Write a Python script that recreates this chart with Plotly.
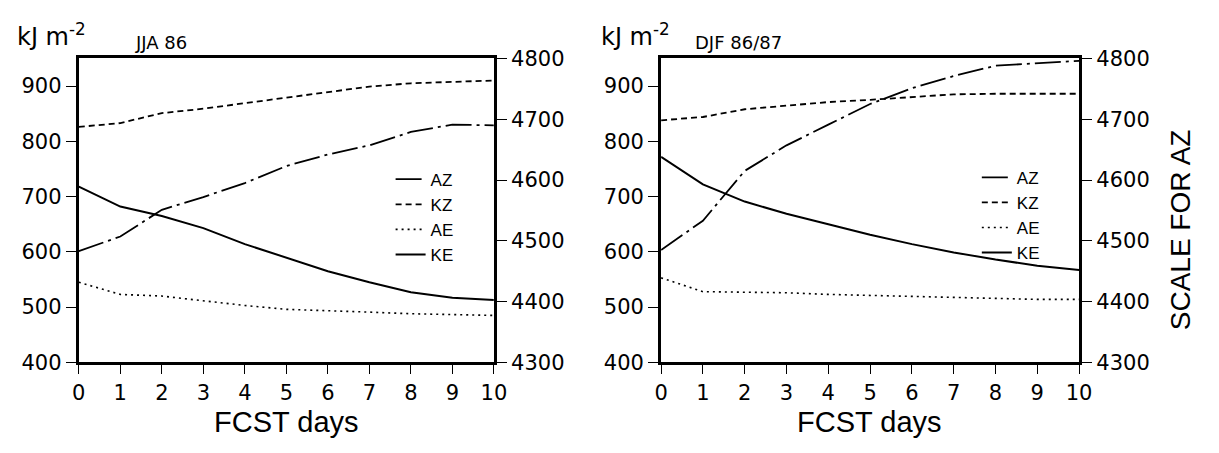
import plotly.graph_objects as go

# ---------------- data ----------------
days = [0, 1, 2, 3, 4, 5, 6, 7, 8, 9, 10]

# JJA 86
jja_AZ = [4483, 4507, 4551, 4572, 4595, 4623, 4642, 4657, 4679, 4691, 4690]
jja_KZ = [826, 833, 851, 859, 869, 879, 888, 899, 905, 908, 910]
jja_AE = [545, 523, 520, 511, 503, 496, 494, 491, 488, 486, 485]
jja_KE = [718, 682, 665, 643, 614, 589, 565, 545, 527, 517, 513]

# DJF 86/87
djf_AZ = [4485, 4533, 4615, 4657, 4691, 4725, 4751, 4771, 4788, 4792, 4796]
djf_KZ = [838, 844, 858, 865, 871, 875, 880, 885, 886, 886, 886]
djf_AE = [553, 528, 527, 526, 523, 521, 520, 517, 515, 514, 514]
djf_KE = [772, 722, 691, 669, 650, 631, 614, 599, 586, 575, 567]

left_ticks = [400, 500, 600, 700, 800, 900]
right_ticks = [4300, 4400, 4500, 4600, 4700, 4800]
series_names = ["AZ", "KZ", "AE", "KE"]

# ---------------- layout helpers ----------------
W, H = 1219, 453


def px(x):
    return x / W


def py(y):
    return 1 - y / H


TICKFONT = dict(family="DejaVu Sans", size=21, color="black")
TITLEFONT = dict(family="Liberation Sans", size=29, color="black")

line_styles = {
    "AZ": dict(color="black", width=1.8, dash="26px,5px,3px,5px"),
    "KZ": dict(color="black", width=1.8, dash="6px,4px"),
    "AE": dict(color="black", width=1.6, dash="2px,4px"),
    "KE": dict(color="black", width=2.0, dash="solid"),
}

fig = go.Figure()

panels = [
    ("x", "y", "y2", "legend", {"AZ": jja_AZ, "KZ": jja_KZ, "AE": jja_AE, "KE": jja_KE}),
    ("x2", "y3", "y4", "legend2", {"AZ": djf_AZ, "KZ": djf_KZ, "AE": djf_AE, "KE": djf_KE}),
]

for xa, ya_left, ya_right, leg, data in panels:
    for name in series_names:
        fig.add_trace(go.Scatter(
            x=days, y=data[name], mode="lines", name=name,
            line=line_styles[name],
            xaxis=xa, yaxis=ya_right if name == "AZ" else ya_left,
            legend=leg, showlegend=True, hoverinfo="skip",
        ))

common_x = dict(range=[0, 10], tickvals=days, ticks="outside", ticklen=9, tickwidth=1,
                tickcolor="black", showline=True, linewidth=3, linecolor="black",
                mirror=True, showgrid=False, zeroline=False, tickfont=TICKFONT)
common_yl = dict(range=[400, 950], tickvals=left_ticks, ticks="outside", ticklen=10,
                 tickwidth=1, tickcolor="black", showline=True, linewidth=3,
                 linecolor="black", mirror=True, showgrid=False, zeroline=False,
                 tickfont=TICKFONT)
common_yr = dict(range=[4300, 4800], tickvals=right_ticks, ticks="outside", ticklen=10,
                 tickwidth=1, tickcolor="black", showline=True, linewidth=3,
                 linecolor="black", side="right", showgrid=False, zeroline=False,
                 tickfont=TICKFONT)

ydom = [py(370), py(49)]

legend_common = dict(font=dict(family="Liberation Sans", size=17, color="black"),
                     bgcolor="rgba(0,0,0,0)", tracegroupgap=0, itemwidth=30,
                     xanchor="left", yanchor="top", itemclick=False, itemdoubleclick=False)

fig.update_layout(
    width=W, height=H,
    margin=dict(l=0, r=0, t=0, b=0),
    paper_bgcolor="white", plot_bgcolor="white",
    hovermode=False,
    xaxis=dict(domain=[px(73), px(495)], anchor="y", **common_x),
    yaxis=dict(domain=ydom, anchor="x", **common_yl),
    yaxis2=dict(overlaying="y", anchor="x", **common_yr),
    xaxis2=dict(domain=[px(665), px(1090)], anchor="y3", **common_x),
    yaxis3=dict(domain=ydom, anchor="x2", **common_yl),
    yaxis4=dict(overlaying="y3", anchor="x2", **common_yr),
    legend=dict(x=px(390), y=py(158), **legend_common),
    legend2=dict(x=px(986), y=py(156), **legend_common),
)

SMALL = dict(family="DejaVu Sans", size=18, color="black")
UNIT = dict(family="DejaVu Sans", size=24, color="black")

annots = [
    dict(text="kJ m<sup>-2</sup>", x=px(8), y=py(24), font=UNIT, xanchor="left"),
    dict(text="JJA 86", x=px(128), y=py(32), font=SMALL, xanchor="left"),
    dict(text="kJ m<sup>-2</sup>", x=px(602), y=py(24), font=UNIT, xanchor="left"),
    dict(text="DJF 86/87", x=px(697), y=py(32), font=SMALL, xanchor="left"),
    dict(text="FCST days", x=px(284), y=py(433), font=TITLEFONT, xanchor="center"),
    dict(text="FCST days", x=px(877), y=py(433), font=TITLEFONT, xanchor="center"),
    dict(text="SCALE FOR AZ", x=px(1193), y=py(230), font=dict(TITLEFONT, size=28),
         xanchor="center", textangle=-90),
]
for a in annots:
    fig.add_annotation(xref="paper", yref="paper", showarrow=False, yanchor="middle", **a)

fig.write_html("out.html")
